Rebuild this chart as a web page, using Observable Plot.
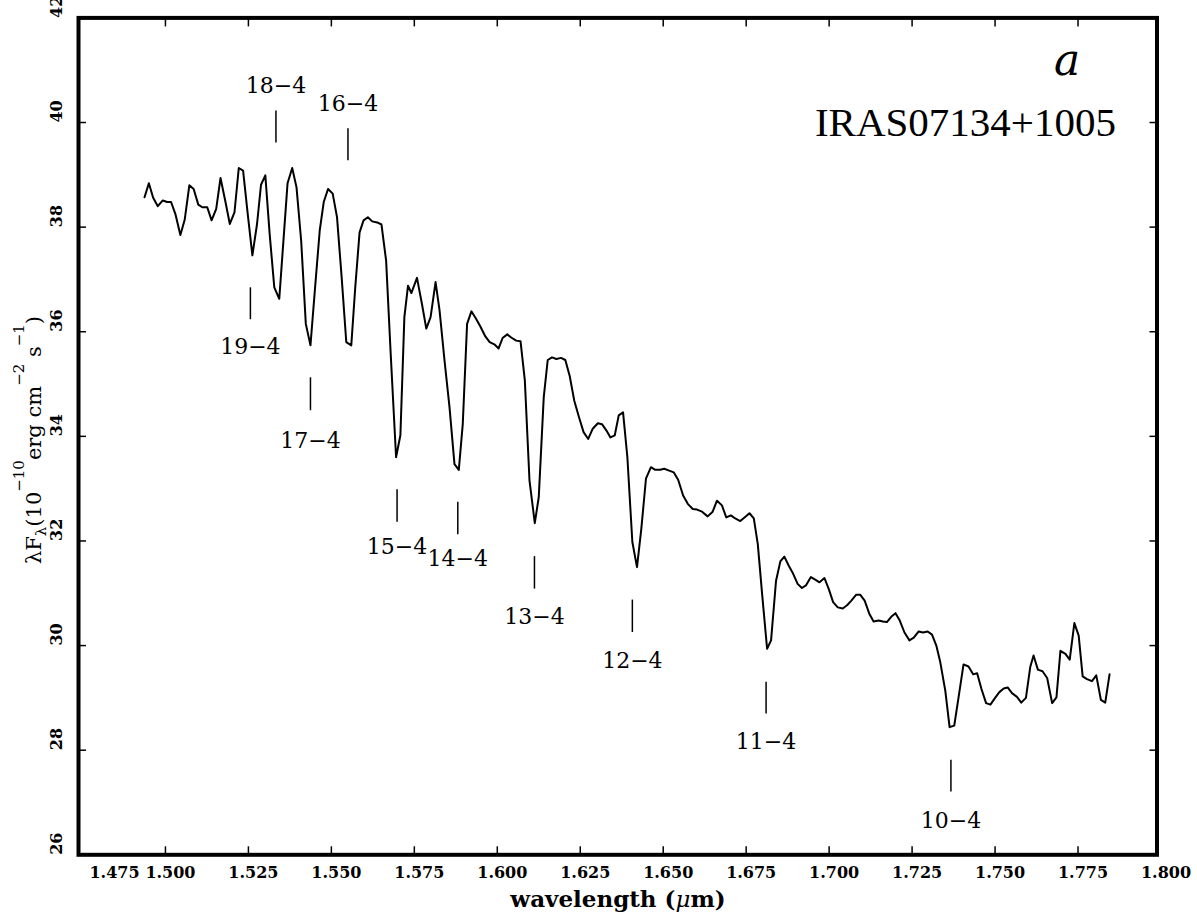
<!DOCTYPE html>
<html>
<head>
<meta charset="utf-8">
<script src="https://cdn.jsdelivr.net/npm/d3@7"></script>
<script src="https://cdn.jsdelivr.net/npm/@observablehq/plot@0.6"></script>
<style>
  html, body { margin: 0; padding: 0; background: #fff; }
  #chart { width: 1197px; height: 915px; }
</style>
</head>
<body>
<div id="chart"></div>
<script>
// ---- Spectrum (wavelength in micron, lambda F_lambda in 1e-10 erg cm^-2 s^-1) ----
const wavelength = [
  1.4937,1.4950,1.4963,1.4977,1.4992,1.5005,1.5017,1.5030,1.5045,1.5058,
  1.5072,1.5085,1.5099,1.5111,1.5126,1.5139,1.5153,1.5166,1.5180,1.5194,
  1.5208,1.5221,1.5234,1.5248,1.5262,1.5276,1.5288,1.5301,1.5314,1.5328,
  1.5343,1.5356,1.5368,1.5382,1.5395,1.5409,1.5423,1.5437,1.5451,1.5465,
  1.5477,1.5490,1.5504,1.5517,1.5531,1.5545,1.5560,1.5572,1.5585,1.5597,
  1.5610,1.5623,1.5638,1.5651,1.5665,1.5679,1.5695,1.5708,1.5720,1.5731,
  1.5741,1.5758,1.5773,1.5786,1.5799,1.5814,1.5826,1.5841,1.5856,1.5871,
  1.5884,1.5896,1.5909,1.5922,1.5936,1.5949,1.5964,1.5977,1.5991,1.6004,
  1.6016,1.6030,1.6042,1.6057,1.6070,1.6083,1.6097,1.6113,1.6125,1.6140,
  1.6152,1.6165,1.6178,1.6192,1.6205,1.6218,1.6232,1.6246,1.6260,1.6274,
  1.6287,1.6303,1.6316,1.6329,1.6341,1.6354,1.6366,1.6379,1.6392,1.6407,
  1.6421,1.6434,1.6448,1.6463,1.6476,1.6491,1.6503,1.6516,1.6532,1.6545,
  1.6560,1.6574,1.6589,1.6602,1.6617,1.6634,1.6649,1.6662,1.6677,1.6690,
  1.6704,1.6717,1.6732,1.6745,1.6760,1.6773,1.6785,1.6798,1.6813,1.6825,
  1.6840,1.6853,1.6865,1.6878,1.6891,1.6905,1.6918,1.6930,1.6945,1.6958,
  1.6971,1.6986,1.6999,1.7012,1.7026,1.7041,1.7054,1.7067,1.7081,1.7094,
  1.7107,1.7121,1.7134,1.7149,1.7162,1.7174,1.7187,1.7200,1.7212,1.7227,
  1.7242,1.7255,1.7270,1.7283,1.7297,1.7310,1.7323,1.7335,1.7350,1.7363,
  1.7377,1.7390,1.7405,1.7420,1.7434,1.7446,1.7459,1.7473,1.7486,1.7499,
  1.7513,1.7526,1.7538,1.7551,1.7566,1.7579,1.7593,1.7606,1.7616,1.7629,
  1.7643,1.7657,1.7672,1.7685,1.7697,1.7712,1.7725,1.7739,1.7752,1.7764,
  1.7777,1.7792,1.7805,1.7819,1.7832,1.7845
];
const flux = [
  38.57,38.84,38.56,38.40,38.51,38.48,38.48,38.25,37.85,38.14,
  38.80,38.73,38.43,38.38,38.38,38.13,38.35,38.94,38.51,38.06,
  38.28,39.13,39.08,38.25,37.46,38.06,38.81,38.99,37.87,36.85,
  36.63,37.78,38.84,39.13,38.76,37.74,36.15,35.74,36.85,37.94,
  38.48,38.73,38.64,38.19,37.04,35.80,35.74,36.85,37.90,38.13,
  38.19,38.11,38.09,38.05,37.36,35.55,33.60,34.02,36.28,36.88,
  36.74,37.03,36.53,36.06,36.28,36.95,36.41,35.45,34.56,33.47,
  33.36,34.24,36.15,36.39,36.25,36.10,35.91,35.80,35.76,35.68,
  35.88,35.95,35.89,35.83,35.82,35.07,33.16,32.34,32.84,34.75,
  35.46,35.51,35.48,35.50,35.46,35.16,34.68,34.37,34.08,33.95,
  34.14,34.25,34.23,34.11,33.98,34.02,34.40,34.46,33.60,31.98,
  31.50,32.23,33.19,33.41,33.36,33.36,33.38,33.35,33.31,33.17,
  32.87,32.71,32.61,32.60,32.56,32.47,32.56,32.77,32.68,32.45,
  32.49,32.43,32.38,32.45,32.53,32.43,31.94,30.99,29.94,30.10,
  31.24,31.61,31.70,31.53,31.38,31.18,31.10,31.15,31.31,31.26,
  31.21,31.29,31.08,30.83,30.73,30.71,30.77,30.86,30.97,30.97,
  30.86,30.61,30.46,30.48,30.46,30.45,30.55,30.62,30.49,30.25,
  30.10,30.15,30.27,30.25,30.27,30.21,30.00,29.68,29.14,28.44,
  28.47,29.01,29.64,29.60,29.45,29.47,29.17,28.90,28.87,28.99,
  29.11,29.18,29.20,29.09,29.02,28.91,29.00,29.59,29.81,29.54,
  29.51,29.38,28.90,29.01,29.90,29.84,29.73,30.43,30.19,29.41,
  29.36,29.32,29.43,28.96,28.91,29.45
];

// ---- Brackett line identifications ----
const lineNames  = ["19−4","18−4","17−4","16−4","15−4","14−4","13−4","12−4","11−4","10−4"];
const lineWave   = [1.5256,1.5333,1.5437,1.5550,1.5698,1.5881,1.6112,1.6407,1.6810,1.7367];
const markLow    = [36.23,39.61,34.49,39.27,32.36,32.12,31.08,30.25,28.69,27.20];
const markHigh   = [36.84,40.22,35.12,39.88,32.98,32.74,31.70,30.87,29.30,27.81];
const labelLevel = [35.70,40.70,33.92,40.36,31.89,31.66,30.54,29.71,28.15,26.64];

// ---- Axes ----
const xTickValues = [1.500,1.525,1.550,1.575,1.600,1.625,1.650,1.675,1.700,1.725,1.750,1.775];
const xLabelValues = [1.500,1.525,1.550,1.575,1.600,1.625,1.650,1.675,1.700,1.725,1.750,1.775,1.800];
const xLabelTexts  = ["1.500","1.525","1.550","1.575","1.600","1.625","1.650","1.675","1.700","1.725","1.750","1.775","1.800"];
const xFirstLabel  = {value: 1.475, text: "1.475"};
const yTickValues  = [28,30,32,34,36,38,40];
const yLabelValues = [26,28,30,32,34,36,38,40,42];
const yLabelTexts  = ["26","28","30","32","34","36","38","40","42"];

const spectrum = wavelength.map((w, i) => ({w, f: flux[i]}));
const lines = lineNames.map((name, i) => ({name, lam: lineWave[i], lo: markLow[i], hi: markHigh[i], ly: labelLevel[i]}));
const xLabels = xLabelValues.map((v, i) => ({v, t: xLabelTexts[i]}));
const yLabels = yLabelValues.map((v, i) => ({v, t: yLabelTexts[i]}));

const tickFont = "DejaVu Serif, serif";
const noText = () => "";

const chart = Plot.plot({
  width: 1197,
  height: 915,
  marginLeft: 78,
  marginRight: 40.5,
  marginTop: 17.4,
  marginBottom: 60.7,
  style: {background: "#fff", color: "#000", overflow: "visible"},
  x: {domain: [1.4738, 1.7988], axis: null},
  y: {domain: [26, 42], axis: null},
  marks: [
    Plot.axisX({anchor: "bottom", ticks: xTickValues, tickSize: -8, tickFormat: noText, label: null, strokeWidth: 1.5}),
    Plot.axisX({anchor: "top", ticks: xTickValues, tickSize: -8, tickFormat: noText, label: null, strokeWidth: 1.5}),
    Plot.axisY({anchor: "left", ticks: yTickValues, tickSize: -8, tickFormat: noText, label: null, strokeWidth: 1.5}),
    Plot.axisY({anchor: "right", ticks: yTickValues, tickSize: -8, tickFormat: noText, label: null, strokeWidth: 1.5}),
    Plot.frame({stroke: "#000", strokeWidth: 4}),
    Plot.text(xLabels, {x: "v", text: "t", frameAnchor: "bottom", dy: 23, dx: 5,
      fontFamily: tickFont, fontWeight: "bold", fontSize: 16, fill: "#000"}),
    Plot.text([xFirstLabel], {x: "value", text: "text", frameAnchor: "bottom", dy: 23, dx: 32,
      fontFamily: tickFont, fontWeight: "bold", fontSize: 16, fill: "#000"}),
    Plot.text(yLabels, {y: "v", text: "t", frameAnchor: "left", dx: -22, rotate: -90,
      fontFamily: tickFont, fontWeight: "bold", fontSize: 16, fill: "#000"}),
    Plot.line(spectrum, {x: "w", y: "f", stroke: "#000", strokeWidth: 2, curve: "linear"}),
    Plot.ruleX(lines, {x: "lam", y1: "lo", y2: "hi", stroke: "#000", strokeWidth: 1.5}),
    Plot.text(lines, {x: "lam", y: "ly", text: "name", fontFamily: "DejaVu Serif, serif", fontSize: 22, fill: "#000"}),
    Plot.text(["a"], {frameAnchor: "top-right", dx: -90, dy: 57, lineAnchor: "bottom", textAnchor: "middle",
      fontFamily: "DejaVu Serif, serif", fontStyle: "italic", fontSize: 44, fill: "#000"}),
    Plot.text(["IRAS07134+1005"], {frameAnchor: "top-right", dx: -41, dy: 105, lineAnchor: "middle", textAnchor: "end",
      fontFamily: "Liberation Serif, serif", fontSize: 41, fill: "#000"})
  ]
});

document.getElementById("chart").appendChild(chart);

// ---- Axis titles (with math-style sub/superscripts) ----
const svg = d3.select(chart);
const xt = svg.append("text")
  .attr("x", 618).attr("y", 907)
  .attr("text-anchor", "middle")
  .attr("font-family", "DejaVu Serif, serif")
  .attr("font-weight", "bold")
  .attr("font-size", 23)
  .attr("fill", "#000");
xt.append("tspan").text("wavelength (");
xt.append("tspan").attr("font-style", "italic").attr("font-weight", "normal").text("μ");
xt.append("tspan").text("m)");

const yt = svg.append("text")
  .attr("transform", "translate(41,440) rotate(-90)")
  .attr("text-anchor", "middle")
  .attr("font-family", "DejaVu Serif, serif")
  .attr("font-size", 21)
  .attr("fill", "#000");
yt.append("tspan").text("λF");
yt.append("tspan").attr("font-size", 15).attr("dy", 5).text("λ");
yt.append("tspan").attr("dy", -5).text("(10");
yt.append("tspan").attr("font-size", 15).attr("dy", -17).text("−10");
yt.append("tspan").attr("dy", 17).text("erg cm");
yt.append("tspan").attr("font-size", 15).attr("dy", -17).text("−2");
yt.append("tspan").attr("dy", 17).text(" s");
yt.append("tspan").attr("font-size", 15).attr("dy", -17).text("−1");
yt.append("tspan").attr("dy", 17).text(")");
</script>
</body>
</html>
